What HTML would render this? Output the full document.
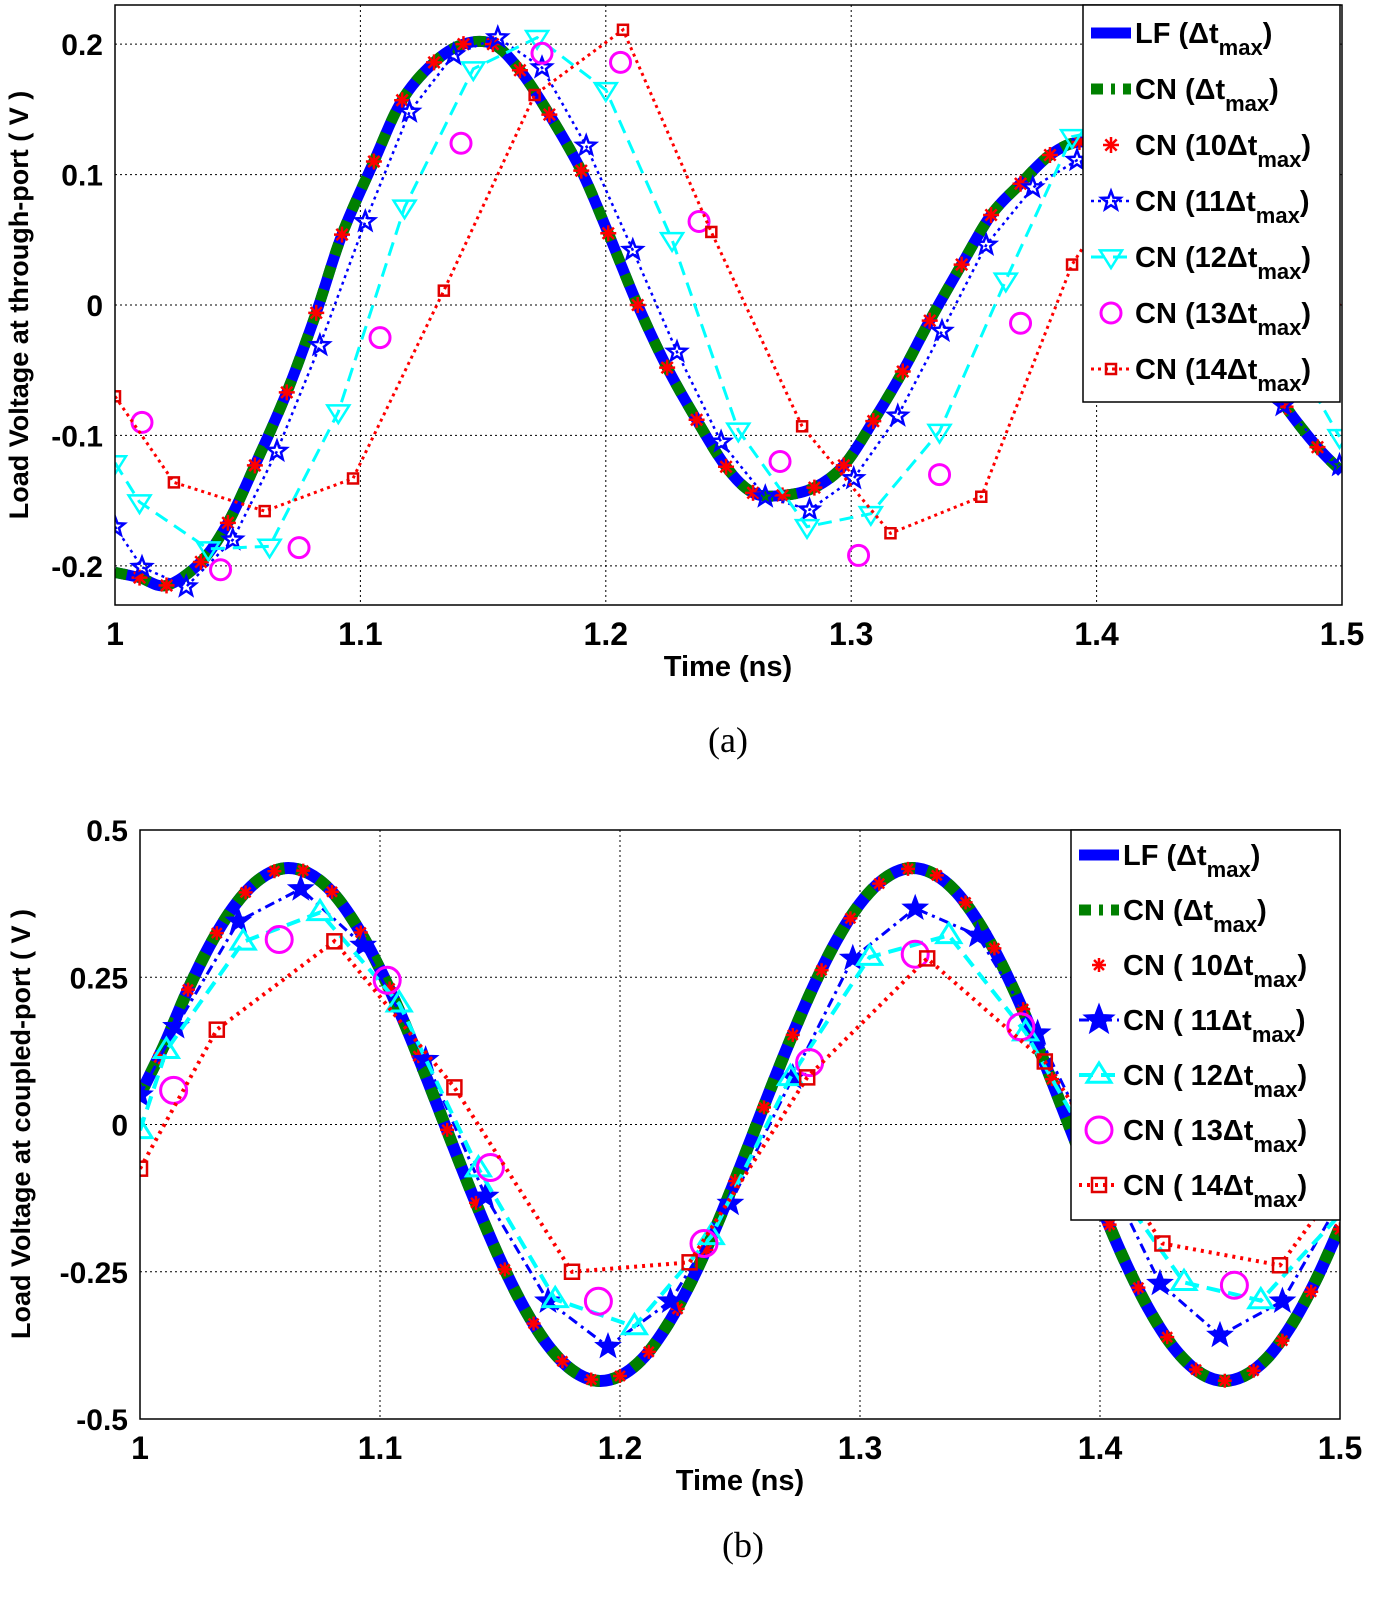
<!DOCTYPE html>
<html><head><meta charset="utf-8"><style>
html,body{margin:0;padding:0;background:#fff;}
svg{display:block;font-family:"Liberation Sans",Arial,sans-serif;}
</style></head><body>
<svg id="fig" width="1400" height="1598" viewBox="0 0 1400 1598" xmlns="http://www.w3.org/2000/svg"></svg>
<script>
// ---------- Panel (a) data ----------
const aLfT = [1.000,1.010,1.021,1.035,1.046,1.057,1.070,1.082,1.0925,1.1055,1.117,1.130,1.142,1.154,1.165,1.177,1.190,1.201,1.213,1.225,1.237,1.249,1.260,1.272,1.285,1.297,1.309,1.321,1.332,1.345,1.357,1.369,1.381,1.393,1.405,1.417,1.429,1.441,1.453,1.465,1.477,1.490,1.500];
const aLfV = [-0.205,-0.209,-0.215,-0.197,-0.167,-0.123,-0.067,-0.006,0.054,0.110,0.157,0.186,0.200,0.200,0.180,0.146,0.103,0.055,0.000,-0.048,-0.088,-0.124,-0.144,-0.146,-0.140,-0.123,-0.089,-0.051,-0.012,0.031,0.069,0.093,0.115,0.125,0.118,0.098,0.068,0.032,-0.006,-0.044,-0.078,-0.109,-0.128];
const aC10T = [1.010,1.021,1.035,1.046,1.057,1.070,1.082,1.0925,1.1055,1.117,1.130,1.142,1.154,1.165,1.177,1.190,1.201,1.213,1.225,1.237,1.249,1.260,1.272,1.285,1.297,1.309,1.321,1.332,1.345,1.357,1.369,1.381,1.393,1.405,1.417,1.429,1.441,1.453,1.465,1.477,1.490];
const aC10V = [-0.209,-0.215,-0.197,-0.167,-0.123,-0.067,-0.006,0.054,0.110,0.157,0.186,0.200,0.200,0.180,0.146,0.103,0.055,0.000,-0.048,-0.088,-0.124,-0.144,-0.146,-0.140,-0.123,-0.089,-0.051,-0.012,0.031,0.069,0.093,0.115,0.125,0.118,0.098,0.068,0.032,-0.006,-0.044,-0.078,-0.109];
const aC11T = [1.000,1.011,1.029,1.048,1.066,1.0835,1.102,1.120,1.138,1.156,1.174,1.192,1.211,1.229,1.247,1.265,1.283,1.301,1.319,1.337,1.355,1.374,1.392,1.410,1.428,1.446,1.464,1.476,1.499];
const aC11V = [-0.170,-0.201,-0.216,-0.180,-0.112,-0.031,0.064,0.148,0.192,0.205,0.182,0.122,0.042,-0.036,-0.105,-0.147,-0.157,-0.133,-0.085,-0.020,0.046,0.090,0.111,0.123,0.092,0.046,-0.019,-0.077,-0.123];
const aC12T = [1.000,1.010,1.038,1.063,1.091,1.118,1.146,1.172,1.200,1.227,1.254,1.282,1.308,1.336,1.363,1.390,1.417,1.445,1.472,1.499];
const aC12V = [-0.121,-0.151,-0.187,-0.185,-0.082,0.075,0.181,0.205,0.165,0.050,-0.096,-0.170,-0.160,-0.097,0.019,0.129,0.140,0.100,-0.012,-0.101];
const aC13T = [1.011,1.043,1.075,1.108,1.141,1.174,1.206,1.238,1.271,1.303,1.336,1.369,1.402,1.435,1.468,1.500];
const aC13V = [-0.090,-0.203,-0.186,-0.025,0.124,0.193,0.186,0.064,-0.120,-0.192,-0.130,-0.014,0.110,0.120,0.030,-0.061];
const aC14T = [1.000,1.024,1.061,1.097,1.134,1.171,1.207,1.243,1.280,1.316,1.353,1.390,1.427,1.463,1.500];
const aC14V = [-0.070,-0.136,-0.158,-0.133,0.011,0.161,0.211,0.056,-0.093,-0.175,-0.147,0.031,0.140,0.080,-0.002];
const aYTicks = [0.2,0.1,0,-0.1,-0.2];
const aYLabels = ["0.2","0.1","0","-0.1","-0.2"];
const xTicks = [1,1.1,1.2,1.3,1.4,1.5];
const xLabels = ["1","1.1","1.2","1.3","1.4","1.5"];

// ---------- Panel (b) data ----------
const bLfT = [1.00,1.01,1.02,1.03,1.04,1.05,1.06,1.07,1.08,1.09,1.10,1.11,1.12,1.13,1.14,1.15,1.16,1.17,1.18,1.19,1.20,1.21,1.22,1.23,1.24,1.25,1.26,1.27,1.28,1.29,1.30,1.31,1.32,1.33,1.34,1.35,1.36,1.37,1.38,1.39,1.40,1.41,1.42,1.43,1.44,1.45,1.46,1.47,1.48,1.49,1.50];
const bLfV = [0.050,0.134,0.229,0.311,0.375,0.417,0.435,0.427,0.395,0.339,0.264,0.174,0.073,-0.032,-0.134,-0.229,-0.311,-0.375,-0.417,-0.435,-0.427,-0.395,-0.339,-0.264,-0.174,-0.073,0.032,0.134,0.229,0.311,0.375,0.417,0.435,0.427,0.395,0.339,0.264,0.174,0.073,-0.032,-0.134,-0.229,-0.311,-0.375,-0.417,-0.435,-0.427,-0.395,-0.339,-0.264,-0.174];
const bC10T = [1.008,1.020,1.032,1.044,1.056,1.068,1.080,1.092,1.104,1.116,1.128,1.140,1.152,1.164,1.176,1.188,1.200,1.212,1.224,1.236,1.248,1.260,1.272,1.284,1.296,1.308,1.320,1.332,1.344,1.356,1.368,1.380,1.392,1.404,1.416,1.428,1.440,1.452,1.464,1.476,1.488,1.500];
const bC10V = [0.114,0.229,0.325,0.394,0.430,0.431,0.395,0.326,0.231,0.116,-0.009,-0.133,-0.246,-0.338,-0.402,-0.433,-0.427,-0.386,-0.313,-0.213,-0.096,0.029,0.152,0.262,0.350,0.409,0.434,0.423,0.377,0.299,0.196,0.077,-0.048,-0.170,-0.277,-0.361,-0.416,-0.435,-0.418,-0.367,-0.284,-0.178];
const bC11T = [1.000,1.015,1.041,1.067,1.093,1.119,1.144,1.170,1.195,1.221,1.246,1.272,1.297,1.323,1.349,1.374,1.400,1.425,1.450,1.476,1.500];
const bC11V = [0.050,0.166,0.345,0.400,0.304,0.110,-0.122,-0.300,-0.377,-0.300,-0.134,0.080,0.282,0.367,0.321,0.155,-0.060,-0.270,-0.358,-0.300,-0.130];
const bC12T = [1.000,1.011,1.043,1.075,1.108,1.141,1.173,1.206,1.238,1.271,1.304,1.337,1.369,1.402,1.435,1.467,1.500];
const bC12V = [-0.010,0.126,0.310,0.360,0.205,-0.075,-0.297,-0.343,-0.190,0.080,0.284,0.321,0.156,-0.080,-0.268,-0.299,-0.153];
const bC13T = [1.014,1.058,1.103,1.146,1.191,1.235,1.279,1.323,1.367,1.411,1.456,1.501];
const bC13V = [0.058,0.314,0.245,-0.073,-0.300,-0.202,0.105,0.289,0.166,-0.100,-0.273,-0.117];
const bC14T = [1.000,1.032,1.081,1.131,1.180,1.229,1.278,1.328,1.377,1.426,1.475,1.500];
const bC14V = [-0.075,0.161,0.311,0.063,-0.250,-0.234,0.080,0.282,0.107,-0.202,-0.239,-0.100];
const bYTicks = [0.5,0.25,0,-0.25,-0.5];
const bYLabels = ["0.5","0.25","0","-0.25","-0.5"];

const NS = "http://www.w3.org/2000/svg";
const svg = document.getElementById('fig');
function mk(tag, attrs, parent){
  const e = document.createElementNS(NS, tag);
  for (const k in attrs) e.setAttribute(k, attrs[k]);
  (parent||svg).appendChild(e);
  return e;
}
function axes(x0,x1,y0,y1,vmin,vmax){
  return {
    sx: t => x0 + (t-1)/(0.5)*(x1-x0),
    sy: v => y1 - (v-vmin)/(vmax-vmin)*(y1-y0)
  };
}
function smoothPath(pts){
  let d = "M"+pts[0][0].toFixed(1)+","+pts[0][1].toFixed(1);
  for (let i=0;i<pts.length-1;i++){
    const p0=pts[Math.max(0,i-1)], p1=pts[i], p2=pts[i+1], p3=pts[Math.min(pts.length-1,i+2)];
    const c1=[p1[0]+(p2[0]-p0[0])/6, p1[1]+(p2[1]-p0[1])/6];
    const c2=[p2[0]-(p3[0]-p1[0])/6, p2[1]-(p3[1]-p1[1])/6];
    d += " C"+c1[0].toFixed(1)+","+c1[1].toFixed(1)+" "+c2[0].toFixed(1)+","+c2[1].toFixed(1)+" "+p2[0].toFixed(1)+","+p2[1].toFixed(1);
  }
  return d;
}
function linePath(pts){ return pts.map((p,i)=>(i?"L":"M")+p[0].toFixed(1)+","+p[1].toFixed(1)).join(" "); }

function marker(g, type, x, y, color, s){
  let e;
  if (type==='asterisk'){
    e = mk('g',{},g);
    for (let k=0;k<4;k++){
      const a = k*Math.PI/4;
      mk('line',{x1:x-s*Math.cos(a),y1:y-s*Math.sin(a),x2:x+s*Math.cos(a),y2:y+s*Math.sin(a),stroke:color,'stroke-width':2.5},e);
    }
  } else if (type==='star' || type==='starfill'){
    let pts=[];
    for (let k=0;k<10;k++){
      const r = k%2? s*0.42 : s;
      const a = -Math.PI/2 + k*Math.PI/5;
      pts.push((x+r*Math.cos(a)).toFixed(1)+","+(y+r*Math.sin(a)).toFixed(1));
    }
    e = mk('polygon',{points:pts.join(' '),fill:type==='starfill'?color:'none',stroke:color,'stroke-width':2.5},g);
  } else if (type==='tridown'){
    e = mk('polygon',{points:`${x-s},${y-s*0.6} ${x+s},${y-s*0.6} ${x},${y+s}`,fill:'none',stroke:color,'stroke-width':2.5},g);
  } else if (type==='triup'){
    e = mk('polygon',{points:`${x-s},${y+s*0.6} ${x+s},${y+s*0.6} ${x},${y-s}`,fill:'none',stroke:color,'stroke-width':3},g);
  } else if (type==='circle'){
    e = mk('circle',{cx:x,cy:y,r:s,fill:'none',stroke:color,'stroke-width':3},g);
  } else if (type==='square'){
    e = mk('rect',{x:x-s,y:y-s,width:2*s,height:2*s,fill:'none',stroke:color,'stroke-width':2.5},g);
  }
  return e;
}

function series(g, ax, T, V, opt){
  const pts = T.map((t,i)=>[ax.sx(t), ax.sy(V[i])]);
  if (opt.line){
    const p = mk('path',{d: opt.smooth? smoothPath(pts) : linePath(pts), fill:'none', stroke:opt.color,'stroke-width':opt.width,'stroke-dasharray':opt.dash||'none','stroke-linecap':opt.cap||'butt'},g);
    
    
  }
  if (opt.marker){
    T.forEach((t,i)=>{
      if (opt.skip && opt.skip(pts[i][0],pts[i][1])) return;
      const m = marker(g, opt.marker, pts[i][0], pts[i][1], opt.mcolor||opt.color, opt.ms);
      
      
    });
  }
}

function panel(cfg){
  const g = mk('g',{});
  
  
  const ax = axes(cfg.x0,cfg.x1,cfg.y0,cfg.y1,cfg.vmin,cfg.vmax);
  // grid
  xTicks.forEach((t,i)=>{
    const x = ax.sx(t);
    if (i>0 && i<xTicks.length-1){
      const l = mk('line',{x1:x,y1:cfg.y0,x2:x,y2:cfg.y1,stroke:'#000','stroke-width':1,'stroke-dasharray':'2,3'},g);
      
      
    }
    const tx = mk('text',{x:x,y:cfg.y1+40,'text-anchor':'middle','font-size':32,'font-weight':'bold'},g);
    tx.textContent = xLabels[i];
    
    
  });
  cfg.yTicks.forEach((v,i)=>{
    const y = ax.sy(v);
    const l = mk('line',{x1:cfg.x0,y1:y,x2:cfg.x1,y2:y,stroke:'#000','stroke-width':1,'stroke-dasharray':'2,3'},g);
    
    
    const tx = mk('text',{x:cfg.x0-12,y:y+11,'text-anchor':'end','font-size':30,'font-weight':'bold'},g);
    tx.textContent = cfg.yLabels[i];
    
    
  });
  // clip
  const cid = 'clip-'+cfg.name;
  const cp = mk('clipPath',{id:cid},g);
  mk('rect',{x:cfg.x0,y:cfg.y0,width:cfg.x1-cfg.x0,height:cfg.y1-cfg.y0},cp);
  const pg = mk('g',{'clip-path':`url(#${cid})`},g);
  
  
  cfg.series.forEach(s=>series(pg, ax, s.T, s.V, s));
  // frame
  const fr = mk('rect',{x:cfg.x0,y:cfg.y0,width:cfg.x1-cfg.x0,height:cfg.y1-cfg.y0,fill:'none',stroke:'#000','stroke-width':1.5},g);
  
  
  // axis titles
  const xt = mk('text',{x:cfg.xTitleX,y:cfg.xTitleY,'text-anchor':'middle','font-size':29,'font-weight':'bold'},g);
  xt.textContent = 'Time (ns)';
  
  
  const yt = mk('text',{x:0,y:0,'text-anchor':'middle','font-size':27,'font-weight':'bold',transform:`translate(${cfg.yTitleX},${cfg.yTitleY}) rotate(-90)`},g);
  yt.textContent = cfg.yTitle;
  
  
  // legend
  const L = cfg.legend;
  const lg = mk('g',{},g);
  
  
  mk('rect',{x:L.x,y:L.y,width:L.w,height:L.h,fill:'#fff',stroke:'#000','stroke-width':1.5},lg);
  cfg.series.forEach((s,i)=>{
    const cy = L.firstY + i*L.step;
    const eg = mk('g',{},lg);
    
    
    if (s.line) mk('line',{x1:L.x+8,y1:cy,x2:L.x+48,y2:cy,stroke:s.color,'stroke-width':s.lw||s.width,'stroke-dasharray':s.ldash||s.dash||'none'},eg);
    if (s.marker) marker(eg, s.marker, L.x+28, cy, s.mcolor||s.color, s.lms||s.ms);
    const t = mk('text',{x:L.x+52,y:cy+10,'font-size':29,'font-weight':'bold'},eg);
    t.appendChild(document.createTextNode(s.label[0]));
    const sub = mk('tspan',{dy:12,'font-size':22},t); sub.textContent='max';
    const cl = mk('tspan',{dy:-12},t); cl.textContent=')';
  });
}

const inLegA = (x,y)=> x>1083 && y<402;
panel({name:'panel-a', x0:115,x1:1342,y0:5,y1:605,vmin:-0.23,vmax:0.23,
  yTicks:aYTicks,yLabels:aYLabels, xTitleX:728,xTitleY:676, yTitleX:28,yTitleY:305,
  yTitle:'Load Voltage at through-port ( V )',
  legend:{x:1083,y:5,w:257,h:397,firstY:33,step:56},
  series:[
    {name:'lf-dtmax',T:aLfT,V:aLfV,line:true,smooth:true,color:'#0000ff',width:11,label:['LF (Δt'],lw:11},
    {name:'cn-dtmax',T:aLfT,V:aLfV,line:true,smooth:true,color:'#008000',width:11,dash:'12,12',label:['CN (Δt'],lw:11,ldash:'12,8,4,8'},
    {name:'cn-10dtmax',T:aC10T,V:aC10V,line:false,marker:'asterisk',color:'#ff0000',ms:8,label:['CN (10Δt'],skip:inLegA},
    {name:'cn-11dtmax',T:aC11T,V:aC11V,line:true,dash:'3,4',width:2.5,marker:'star',color:'#0000ff',ms:10,label:['CN (11Δt'],skip:inLegA},
    {name:'cn-12dtmax',T:aC12T,V:aC12V,line:true,dash:'14,8',width:3,marker:'tridown',color:'#00ffff',ms:11,label:['CN (12Δt'],skip:inLegA},
    {name:'cn-13dtmax',T:aC13T,V:aC13V,line:false,marker:'circle',color:'#ff00ff',ms:10,label:['CN (13Δt'],skip:inLegA},
    {name:'cn-14dtmax',T:aC14T,V:aC14V,line:true,dash:'3,4',width:3,marker:'square',color:'#ff0000',mcolor:'#e00000',ms:5,label:['CN (14Δt'],skip:inLegA}
  ]});

const inLegB = (x,y)=> x>1071 && y<1220;
panel({name:'panel-b', x0:140,x1:1340,y0:830,y1:1419,vmin:-0.5,vmax:0.5,
  yTicks:bYTicks,yLabels:bYLabels, xTitleX:740,xTitleY:1490, yTitleX:30,yTitleY:1124,
  yTitle:'Load Voltage at coupled-port ( V )',
  legend:{x:1071,y:830,w:269,h:390,firstY:855,step:55},
  series:[
    {name:'lf-dtmax',T:bLfT,V:bLfV,line:true,smooth:true,color:'#0000ff',width:12,label:['LF (Δt'],lw:11},
    {name:'cn-dtmax',T:bLfT,V:bLfV,line:true,smooth:true,color:'#008000',width:12,dash:'12,12',label:['CN (Δt'],lw:11,ldash:'12,8,4,8'},
    {name:'cn-10dtmax',T:bC10T,V:bC10V,line:false,marker:'asterisk',color:'#ff0000',ms:7,label:['CN ( 10Δt'],skip:inLegB},
    {name:'cn-11dtmax',T:bC11T,V:bC11V,line:true,dash:'10,5,3,5',width:3,marker:'starfill',color:'#0000ff',ms:11,label:['CN ( 11Δt'],lms:14,skip:inLegB},
    {name:'cn-12dtmax',T:bC12T,V:bC12V,line:true,dash:'14,8',width:4,marker:'triup',color:'#00ffff',ms:12,label:['CN ( 12Δt'],skip:inLegB},
    {name:'cn-13dtmax',T:bC13T,V:bC13V,line:false,marker:'circle',color:'#ff00ff',ms:13,label:['CN ( 13Δt'],skip:inLegB},
    {name:'cn-14dtmax',T:bC14T,V:bC14V,line:true,dash:'3,5',width:4,marker:'square',color:'#ff0000',mcolor:'#e00000',ms:7,label:['CN ( 14Δt'],skip:inLegB}
  ]});

const capA = mk('text',{x:728,y:752,'text-anchor':'middle','font-size':36,'font-family':'"Liberation Serif",serif'});
capA.textContent='(a)';


const capB = mk('text',{x:743,y:1557,'text-anchor':'middle','font-size':36,'font-family':'"Liberation Serif",serif'});
capB.textContent='(b)';


</script>
</body></html>
